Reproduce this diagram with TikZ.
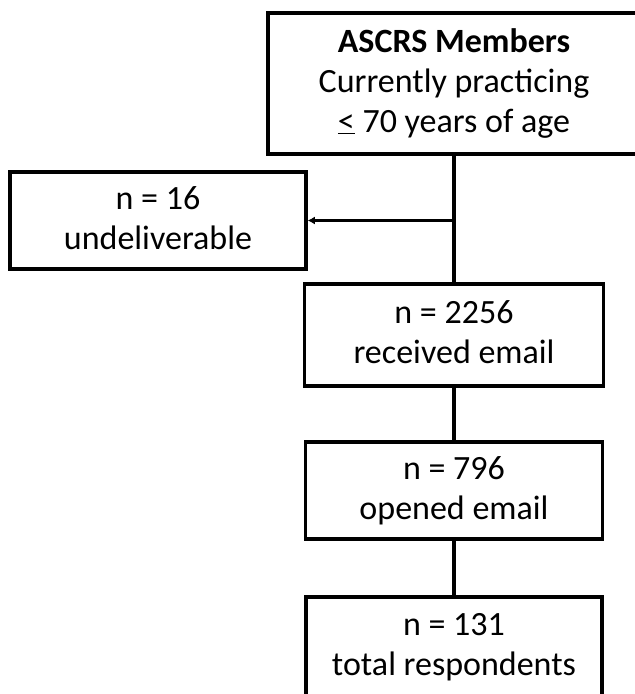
\documentclass[tikz,border=0pt]{standalone}
\usepackage{fontspec}
\setmainfont{Carlito}
\usetikzlibrary{arrows.meta}
\newcommand{\topstrut}{\rule{0pt}{25pt}}
\newcommand{\botstrut}{\rule[-8pt]{0pt}{8pt}}
\begin{document}
\begin{tikzpicture}[x=1pt,y=-1pt,
  flowbox/.style={draw=black, line width=3.5pt, rectangle, inner sep=0pt,
    align=center, font=\fontsize{34}{40}\selectfont},
  link/.style={draw=black, line width=3.5pt},
  sidearrow/.style={draw=black, line width=2.6pt, -{Latex[length=7pt,width=8pt]}}]
\clip (0,0) rectangle (635,694);
\fill[white] (0,0) rectangle (635,694);
\node[flowbox, minimum width=372pt, minimum height=141pt] (top) at (454,83.5)
  {\topstrut\textbf{ASCRS Members}\\Currently practicing\\\underline{<} 70 years of age\botstrut};
\node[flowbox, minimum width=296pt, minimum height=97pt] (undel) at (158,220.5)
  {\topstrut n = 16\\undeliverable\botstrut};
\node[flowbox, minimum width=299pt, minimum height=102pt] (recv) at (454,335)
  {\topstrut n = 2256\\received email\botstrut};
\node[flowbox, minimum width=297pt, minimum height=97pt] (open) at (454,490.5)
  {\topstrut n = 796\\opened email\botstrut};
\node[flowbox, minimum width=296pt, minimum height=99pt] (resp) at (454,646.5)
  {\topstrut n = 131\\total respondents\botstrut};
\coordinate (split) at (454,220.5);
\draw[link] (top.south) -- (recv.north);
\draw[link] (recv.south) -- (open.north);
\draw[link] (open.south) -- (resp.north);
\draw[sidearrow] (split) -- (undel.east);
\end{tikzpicture}
\end{document}
